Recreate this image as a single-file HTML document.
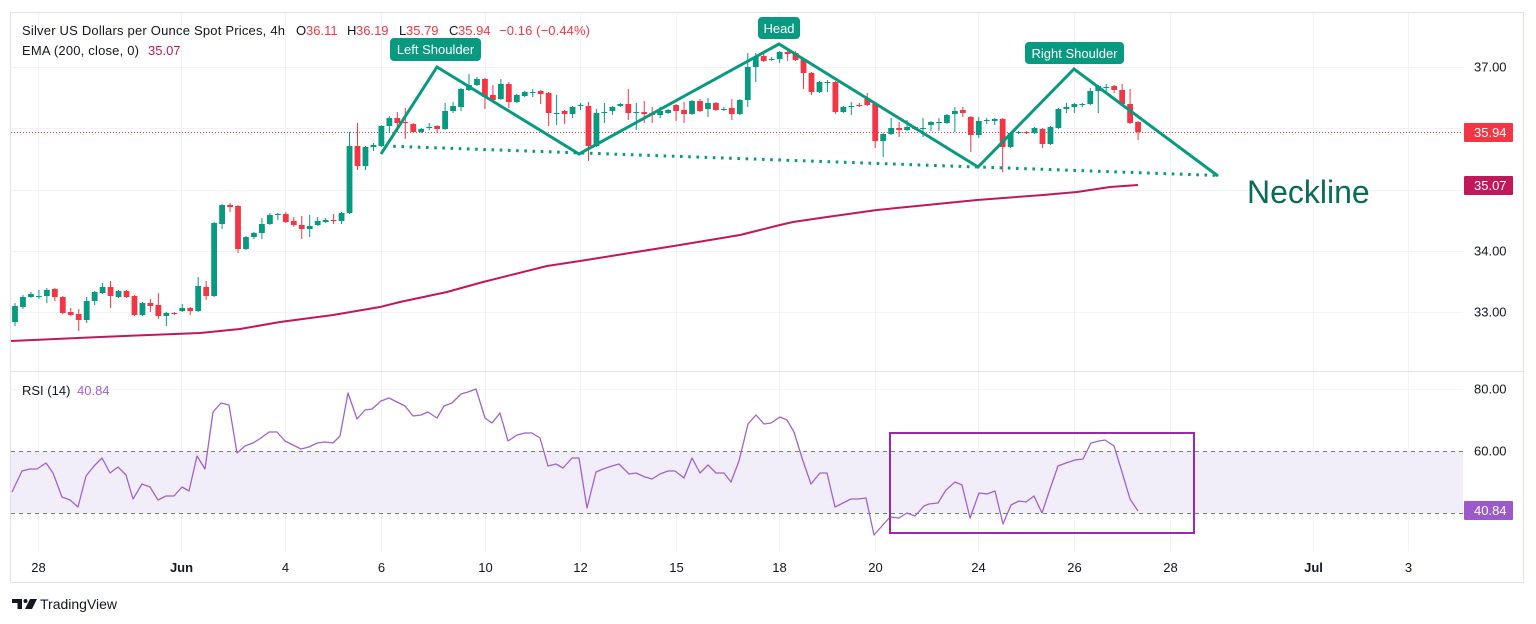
<!DOCTYPE html>
<html><head><meta charset="utf-8">
<style>
html,body{margin:0;padding:0;background:#fff;overflow:hidden;}
svg{display:block;font-family:"Liberation Sans",Arial,sans-serif;}
</style></head>
<body>
<svg id="c" width="1536" height="624" viewBox="0 0 1536 624" xmlns="http://www.w3.org/2000/svg">
<defs>
<clipPath id="cp1"><rect x="11" y="13" width="1452" height="358"/></clipPath>
<clipPath id="cp2"><rect x="11" y="372" width="1452" height="179"/></clipPath>
</defs>
<rect width="1536" height="624" fill="#fff"/>
<!-- grid -->
<g stroke="#f0f3fa" stroke-width="1">
<line x1="11" y1="67.5" x2="1463" y2="67.5"/>
<line x1="11" y1="128.5" x2="1463" y2="128.5"/>
<line x1="11" y1="190.5" x2="1463" y2="190.5"/>
<line x1="11" y1="251.5" x2="1463" y2="251.5"/>
<line x1="11" y1="312.5" x2="1463" y2="312.5"/>
<line x1="11" y1="389.5" x2="1463" y2="389.5"/>
<line x1="38.5" y1="13" x2="38.5" y2="551"/>
<line x1="181.5" y1="13" x2="181.5" y2="551"/>
<line x1="285.5" y1="13" x2="285.5" y2="551"/>
<line x1="381.5" y1="13" x2="381.5" y2="551"/>
<line x1="485.5" y1="13" x2="485.5" y2="551"/>
<line x1="580.5" y1="13" x2="580.5" y2="551"/>
<line x1="676.5" y1="13" x2="676.5" y2="551"/>
<line x1="779.5" y1="13" x2="779.5" y2="551"/>
<line x1="875.5" y1="13" x2="875.5" y2="551"/>
<line x1="978.5" y1="13" x2="978.5" y2="551"/>
<line x1="1074.5" y1="13" x2="1074.5" y2="551"/>
<line x1="1170.5" y1="13" x2="1170.5" y2="551"/>
<line x1="1313.5" y1="13" x2="1313.5" y2="551"/>
<line x1="1408.5" y1="13" x2="1408.5" y2="551"/>
</g>
<!-- frame -->
<rect x="10.5" y="12.5" width="1513" height="570" fill="none" stroke="#e0e3eb" stroke-width="1"/>
<line x1="11" y1="371.5" x2="1523" y2="371.5" stroke="#e0e3eb" stroke-width="1"/>

<!-- RSI band -->
<rect x="11" y="451" width="1452" height="62" fill="#f2eef9"/>
<line x1="11" y1="451.5" x2="1463" y2="451.5" stroke="#787b86" stroke-width="1" stroke-dasharray="4 4"/>
<line x1="11" y1="513.5" x2="1463" y2="513.5" stroke="#787b86" stroke-width="1" stroke-dasharray="4 4"/>

<!-- price line -->
<line x1="11" y1="132.5" x2="1463" y2="132.5" stroke="#f23645" stroke-width="1" stroke-dasharray="1 2"/>

<g id="candles" clip-path="url(#cp1)"></g>

<g clip-path="url(#cp1)">
<polyline fill="none" stroke="#c2185b" stroke-width="2" stroke-linejoin="round" points="11,341 100,337 200,333 240,329 280,322 333,315 380,307 400,302 447,292 483,282 547,266 580,261 680,245 740,235 760,230 780,225 793,222 827,217 877,210 927,205 977,200 1043,195 1077,192 1110,187 1138,185"/>
<!-- neckline dotted -->
<line x1="385" y1="146" x2="1218" y2="175.5" stroke="#089981" stroke-width="3" stroke-dasharray="2.6 5.6"/>
<!-- H&S pattern -->
<polyline fill="none" stroke="#089981" stroke-width="3" stroke-linejoin="miter" points="381,154 437,67 579,154 779,44 978,167 1074,69 1218,176"/>
</g>

<!-- RSI line -->
<g clip-path="url(#cp2)">
<polyline fill="none" stroke="#a062d2" stroke-width="1.3" stroke-linejoin="round" points="12,492 22,471 30,469 37,469 46,463 53,473 62,497 70,500 78,507 86,476 94,466 102,458 110,473 118,467 126,475 133,499 142,484 150,487 158,500 166,496 174,496 182,487 189,491 197,456 205,469 213,412 221,403 229,405 237,453 245,446 253,443 261,438 269,432 277,432 285,441 293,445 301,449 309,447 317,443 325,442 333,443 340,436 348,393 357,419 365,410 372,409 381,401 389,398 397,402 405,406 413,416 421,415 428,412 437,418 444,406 452,403 461,394 468,392 476,389 485,418 492,423 500,413 508,441 517,435 525,433 532,433 540,438 548,466 556,464 563,468 572,458 579,458 587,508 596,472 603,469 612,466 619,464 629,474 636,473 645,477 652,479 660,474 668,471 675,471 684,478 692,458 700,473 708,465 716,473 724,473 731,482 739,461 748,424 756,415 764,424 771,423 780,417 787,420 794,432 802,458 811,484 820,473 827,473 835,507 845,502 851,499 858,499 866,498 874,535 890,517 899,518 907,513 915,516 924,506 929,504 938,503 946,490 955,482 962,485 970,518 979,493 987,494 995,491 1003,524 1011,505 1019,501 1026,502 1034,496 1042,513 1050,489 1058,466 1066,463 1075,460 1083,459 1091,443 1099,441 1105,440 1114,446 1122,472 1130,499 1138,511"/>
<rect x="890" y="433" width="304" height="100" fill="none" stroke="#9c27b0" stroke-width="2"/>
</g>

<!-- annotation labels -->
<rect x="390" y="38" width="91" height="23" rx="4" fill="#089981"/>
<text x="435.5" y="54" font-size="13" fill="#fff" text-anchor="middle">Left Shoulder</text>
<rect x="758" y="17" width="42" height="22" rx="4" fill="#089981"/>
<text x="779" y="33" font-size="13" fill="#fff" text-anchor="middle">Head</text>
<rect x="1025" y="42" width="99" height="22" rx="4" fill="#089981"/>
<text x="1074.5" y="58" font-size="13" fill="#fff" text-anchor="middle">Right Shoulder</text>
<text x="1247" y="203" font-size="32" fill="#0b6b58">Neckline</text>

<!-- legend -->
<g font-size="13">
<text x="22" y="35" fill="#131722" textLength="263" lengthAdjust="spacing">Silver US Dollars per Ounce Spot Prices, 4h</text>
<text x="296" y="35" fill="#131722">O</text><text x="306" y="35" fill="#f23645">36.11</text>
<text x="347" y="35" fill="#131722">H</text><text x="356" y="35" fill="#f23645">36.19</text>
<text x="399" y="35" fill="#131722">L</text><text x="406" y="35" fill="#f23645">35.79</text>
<text x="449" y="35" fill="#131722">C</text><text x="458" y="35" fill="#f23645">35.94</text>
<text x="499" y="35" fill="#f23645" textLength="91" lengthAdjust="spacing">−0.16 (−0.44%)</text>
<text x="22" y="55" fill="#131722" textLength="117" lengthAdjust="spacing">EMA (200, close, 0)</text>
<text x="148" y="55" fill="#c2185b">35.07</text>
<text x="22" y="395" fill="#131722">RSI (14)</text>
<text x="77" y="395" fill="#a062d2">40.84</text>
</g>

<!-- price axis -->
<g font-size="13" fill="#131722">
<text x="1474" y="71.5">37.00</text>
<text x="1474" y="255.5">34.00</text>
<text x="1474" y="316.5">33.00</text>
<text x="1474" y="393.5">80.00</text>
<text x="1474" y="455.5">60.00</text>
</g>
<rect x="1464" y="123" width="49" height="19" rx="1" fill="#f23645"/>
<text x="1474" y="137" font-size="13" fill="#fff">35.94</text>
<rect x="1464" y="176" width="49" height="19" rx="1" fill="#c2185b"/>
<text x="1474" y="190" font-size="13" fill="#fff">35.07</text>
<rect x="1464" y="501" width="49" height="19" rx="1" fill="#9b59cb"/>
<text x="1474" y="515" font-size="13" fill="#fff">40.84</text>

<!-- time axis -->
<g font-size="13" fill="#131722" text-anchor="middle">
<text x="38.5" y="572">28</text>
<text x="181.5" y="572" font-weight="bold">Jun</text>
<text x="285.5" y="572">4</text>
<text x="381.5" y="572">6</text>
<text x="485.5" y="572">10</text>
<text x="580.5" y="572">12</text>
<text x="676.5" y="572">15</text>
<text x="779.5" y="572">18</text>
<text x="875.5" y="572">20</text>
<text x="978.5" y="572">24</text>
<text x="1074.5" y="572">26</text>
<text x="1170.5" y="572">28</text>
<text x="1313.5" y="572" font-weight="bold">Jul</text>
<text x="1408.5" y="572">3</text>
</g>

<!-- logo -->
<g fill="#131722">
<path d="M12 599 h10 v10 h-4.5 v-6 h-5.5 z"/>
<circle cx="25.5" cy="601" r="2"/>
<path d="M30 599 h7 l-5 10 h-7 z"/>
</g>
<text x="40" y="609" font-size="14" fill="#131722">TradingView</text>
</svg>
<script>
(function(){
var D=[
['g',306,322,303,326],['g',297,307,295,309],['g',294,297,292,298],['g',296,297,290,299],['g',290,296,288,303],
['r',289,297,288,301],['r',297,313,296,314],['r',312,315,308,316],['r',314,320,309,331],['g',301,320,297,323],
['g',292,301,291,305],['g',287,293,283,294],['r',287,296,281,308],['g',291,297,290,298],['r',291,297,290,298],
['r',296,315,295,316],['g',303,315,302,316],['r',303,306,299,312],['r',305,316,293,319],['g',313,316,312,326],
['r',313,314,312,315],['g',308,311,304,312],['r',308,311,307,315],['g',286,311,277,312],['r',287,296,281,300],
['g',223,296,222,297],['g',205,224,204,229],['r',205,207,203,212],['r',206,249,205,253],['g',237,249,236,250],
['g',233,237,232,239],['g',224,233,218,239],['g',215,224,213,225],['g',214,215,213,220],['r',214,222,212,223],
['r',221,225,217,227],['r',225,229,216,239],['g',226,229,215,237],['g',221,225,217,226],['g',220,222,218,223],
['r',220,221,214,224],['g',213,221,212,224],['g',146,213,132,214],['r',146,166,123,170],['g',147,166,146,170],
['g',145,147,143,151],['g',126,146,125,147],['g',118,126,116,133],['r',118,123,112,132],['r',122,123,108,139],
['r',124,132,123,133],['g',129,132,128,133],['g',127,128,123,130],['r',126,129,125,133],['g',111,129,103,130],
['g',106,111,102,113],['g',89,107,88,111],['g',85,90,74,91],['g',79,85,77,86],['r',79,97,78,109],
['r',95,100,85,101],['g',84,99,79,100],['r',84,102,82,108],['g',95,102,94,103],['g',92,96,91,97],
['g',92,93,89,97],['r',91,94,90,104],['r',93,113,92,126],['g',113,114,95,125],['r',111,114,110,124],
['g',107,114,106,118],['g',105,106,103,110],['r',106,146,102,161],['g',113,146,109,147],['g',112,113,103,123],
['g',107,111,106,115],['g',104,106,103,107],['r',104,113,89,120],['g',112,113,103,130],['r',112,114,101,123],
['r',113,115,107,123],['g',111,115,107,118],['g',110,113,109,114],['r',105,111,104,121],['r',110,114,102,123],
['g',101,114,100,115],['r',101,111,99,112],['g',103,109,98,117],['r',103,110,102,111],['g',109,110,107,111],
['r',108,114,99,120],['g',100,114,99,115],['g',67,100,53,107],['g',57,67,53,82],['r',56,61,53,62],
['g',59,60,57,61],['g',52,59,51,63],['r',52,54,48,61],['r',53,60,51,61],['r',59,73,58,89],
['r',73,92,72,95],['g',82,92,81,93],['g',82,83,80,92],['r',82,112,81,114],['g',107,112,106,113],
['g',106,107,102,115],['r',105,106,103,107],['r',99,105,93,106],['r',104,141,103,148],['g',134,141,133,157],
['g',128,134,118,135],['r',128,130,122,137],['g',127,130,120,131],['r',127,129,126,130],['g',128,129,118,137],
['g',122,125,121,131],['g',122,123,118,131],['g',115,123,114,124],['g',111,114,107,132],['r',110,113,107,117],
['r',117,135,116,152],['g',121,135,117,138],['g',120,121,118,124],['g',119,121,118,125],['r',119,147,118,172],
['g',133,147,132,148],['g',132,133,131,134],['r',132,133,131,134],['g',128,133,127,134],['r',129,144,128,148],
['g',127,144,126,145],['g',109,128,108,129],['g',107,109,103,113],['g',104,107,103,113],['g',104,105,103,107],
['g',91,104,88,105],['g',86,91,85,113],['g',87,88,84,92],['r',86,90,85,93],['r',90,104,84,105],
['r',104,123,89,124],['r',122,132,121,140]
];
var ns="http://www.w3.org/2000/svg",g=document.getElementById('candles'),s='';
for(var i=0;i<D.length;i++){
 var d=D[i],x=15+i*7.965,col=d[0]=='g'?'#089981':'#f23645';
 var bt=d[1],bb=d[2];if(bb-bt<1)bb=bt+1;
 s+='<rect x="'+(x-0.5).toFixed(2)+'" y="'+d[3]+'" width="1" height="'+(d[4]-d[3])+'" fill="'+col+'"/>';
 s+='<rect x="'+(x-2.9).toFixed(2)+'" y="'+bt+'" width="5.8" height="'+(bb-bt)+'" fill="'+col+'"/>';
}
g.innerHTML=s;
})();
</script>
</body></html>
